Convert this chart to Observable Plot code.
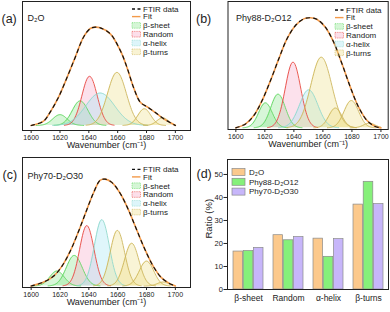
<!DOCTYPE html>
<html><head><meta charset="utf-8">
<script src="https://cdn.jsdelivr.net/npm/d3@7"></script>
<script src="https://cdn.jsdelivr.net/npm/@observablehq/plot@0.6"></script>
<style>
html,body{margin:0;padding:0;background:#fff;}
#chart{position:relative;width:390px;height:312px;overflow:hidden;font-family:"Liberation Sans",Arial,sans-serif;}
</style></head><body><div id="chart"></div>
<script>
// ---------- DATA ----------
const wnTicks = [1600, 1620, 1640, 1660, 1680, 1700];
const compTypes = ["β-sheet", "Random", "α-helix", "β-turns"];

// (a) D2O
const aFitWavenumber = [1600, 1608.6, 1613.2, 1619, 1624.8, 1630.6, 1636.3, 1641, 1644.4, 1647.9, 1654.9, 1661.8, 1666.4, 1671.1, 1675.7, 1681.5, 1687.3, 1691.9, 1698.8, 1700];
const aFitAbsorbance = [0, 0.044, 0.136, 0.288, 0.485, 0.695, 0.898, 0.986, 1.0, 0.993, 0.932, 0.763, 0.593, 0.383, 0.237, 0.18, 0.119, 0.068, 0.01, 0];
const aBandCenter = [1620, 1634, 1640.5, 1647.9, 1659.5, 1678.5, 1691.2];
const aBandHeight = [0.11, 0.25, 0.50, 0.33, 0.54, 0.17, 0.078];
const aBandWidth  = [5, 5.5, 5.3, 10, 6.5, 4.5, 4];
const aBandType   = ["β-sheet", "β-sheet", "Random", "α-helix", "β-turns", "β-turns", "β-turns"];

// (b) Phy88-D2O12
const bFitWavenumber = [1600, 1606.7, 1612.4, 1618.1, 1623.9, 1629.6, 1635.3, 1641.1, 1646.8, 1651.4, 1656, 1661.7, 1667.4, 1673.2, 1678.9, 1684.6, 1690.4, 1696.1, 1700];
const bFitAbsorbance = [0, 0.036, 0.112, 0.248, 0.43, 0.627, 0.81, 0.93, 0.99, 1.0, 0.985, 0.915, 0.779, 0.58, 0.37, 0.188, 0.067, 0.012, 0];
const bBandCenter = [1620.4, 1629.1, 1639.4, 1650.2, 1658.9, 1668.6, 1679.6, 1692];
const bBandHeight = [0.227, 0.306, 0.597, 0.345, 0.642, 0.18, 0.248, 0.042];
const bBandWidth  = [4.7, 5, 5.3, 6.3, 7.2, 4.5, 5, 4];
const bBandType   = ["β-sheet", "β-sheet", "Random", "α-helix", "β-turns", "β-turns", "β-turns", "β-turns"];

// (c) Phy70-D2O30
const cFitWavenumber = [1600, 1608.7, 1615.6, 1621.4, 1627.1, 1632.9, 1638.6, 1643.2, 1647.8, 1651.3, 1655.9, 1661.6, 1667.4, 1673.1, 1678.9, 1684.6, 1690.3, 1696.1, 1700];
const cFitAbsorbance = [0, 0.037, 0.093, 0.186, 0.326, 0.512, 0.714, 0.87, 0.988, 1.0, 0.969, 0.87, 0.714, 0.528, 0.342, 0.186, 0.078, 0.022, 0];
const cBandCenter = [1617.9, 1629.9, 1638.6, 1649, 1659.8, 1669.7, 1680, 1691.5];
const cBandHeight = [0.14, 0.286, 0.565, 0.62, 0.52, 0.40, 0.233, 0.037];
const cBandWidth  = [5, 5.5, 5, 5.2, 5, 5, 5, 4];
const cBandType   = ["β-sheet", "β-sheet", "Random", "α-helix", "β-turns", "β-turns", "β-turns", "β-turns"];

// (d) ratios
const ratioCategories = ["β-sheet", "Random", "α-helix", "β-turns"];
const ratioSeries = ["D₂O", "Phy88-D₂O12", "Phy70-D₂O30"];
const ratioD2O   = [16.5, 23.6, 22.1, 36.9];
const ratioPhy88 = [16.7, 21.4, 14.2, 46.8];
const ratioPhy70 = [18.1, 22.8, 21.9, 37.1];
const ratioTicks = [0, 10, 20, 30, 40, 50];

// ---------- STYLE ----------
const typeFill   = {"β-sheet": "#86e58a", "Random": "#f5a3c4", "α-helix": "#9ee3f2", "β-turns": "#eedd82"};
const typeStroke = {"β-sheet": "#5fd65f", "Random": "#e8483f", "α-helix": "#8fd8cc", "β-turns": "#cdb55a"};
const seriesFill = ["#fcc98c", "#86f07a", "#c7b6fa"];
const fitColor = "#f39a4a";
const FONT = "'Liberation Sans', Arial, sans-serif";

const chart = document.getElementById("chart");
function place(svg, left, top) {
  svg.style.position = "absolute";
  svg.style.left = left + "px";
  svg.style.top = top + "px";
  chart.appendChild(svg);
}

function bandSamples(centers, heights, widths, types) {
  const out = [];
  centers.forEach((c, i) => {
    const s = widths[i];
    const lo = Math.max(1600, c - 3.3 * s), hi = Math.min(1700, c + 3.3 * s);
    for (let x = lo; x <= hi + 1e-9; x += 0.5)
      out.push({id: i, type: types[i], x, y: heights[i] * Math.exp(-((x - c) ** 2) / (2 * s * s))});
  });
  return out;
}

function spectrum(o) {
  const bands = bandSamples(o.centers, o.heights, o.widths, o.types);
  const fit = o.fitX.map((x, i) => ({x, y: o.fitY[i]}));
  const marks = [];
  for (const t of compTypes) {
    const d = bands.filter(b => b.type === t);
    marks.push(Plot.areaY(d, {x: "x", y: "y", z: "id", fill: typeFill[t], fillOpacity: 0.33}));
  }
  for (const t of compTypes) {
    const d = bands.filter(b => b.type === t);
    marks.push(Plot.lineY(d, {x: "x", y: "y", z: "id", stroke: typeStroke[t], strokeWidth: 0.9}));
  }
  marks.push(Plot.line(fit, {x: "x", y: "y", stroke: fitColor, strokeWidth: 1.6, curve: "catmull-rom"}));
  marks.push(Plot.line(fit, {x: "x", y: "y", stroke: "#111", strokeWidth: 1.2, strokeDasharray: "3.5,4", curve: "catmull-rom"}));
  marks.push(Plot.frame({stroke: "#222", strokeWidth: 1}));
  marks.push(Plot.axisX({ticks: wnTicks, tickFormat: d => String(d), tickSize: 3, tickPadding: 1.5, fontSize: 7, label: null}));
  marks.push(Plot.text(["Wavenumber (cm⁻¹)"], {frameAnchor: "bottom", dy: o.titleDy, fontSize: 9}));
  marks.push(Plot.text([o.letter], {frameAnchor: "top-left", textAnchor: "start", dx: o.letterDx, dy: 13, fontSize: 12.5}));
  marks.push(Plot.text([o.name], {frameAnchor: "top-left", textAnchor: "start", dx: o.nameDx, dy: o.nameDy, fontSize: 9}));
  const svg = Plot.plot({
    width: 195, height: 156,
    marginLeft: o.ml, marginRight: o.mr, marginTop: o.mt, marginBottom: o.mb,
    x: {domain: o.xDomain, axis: null},
    y: {domain: o.yDomain, axis: null},
    style: {fontFamily: FONT, fontSize: "8px", color: "#222", background: "none", overflow: "visible"},
    marks
  });
  // legend
  const g = d3.select(svg).append("g").attr("font-family", FONT).attr("font-size", 8)
    .attr("fill", "#222").attr("text-anchor", "start");
  const rows = [0, 7.6, 16.4, 25.2, 34, 42.8].map(v => v + o.legY);
  const lx = o.legX;
  g.append("line").attr("x1", lx).attr("x2", lx + 8.5).attr("y1", rows[0]).attr("y2", rows[0])
    .attr("stroke", "#111").attr("stroke-width", 1.3).attr("stroke-dasharray", "3,2.5");
  g.append("line").attr("x1", lx).attr("x2", lx + 8.5).attr("y1", rows[1]).attr("y2", rows[1])
    .attr("stroke", fitColor).attr("stroke-width", 1.4);
  compTypes.forEach((t, i) => {
    g.append("rect").attr("x", lx).attr("y", rows[i + 2] - 2.8).attr("width", 8.5).attr("height", 5.6)
      .attr("fill", typeFill[t]).attr("fill-opacity", 0.35)
      .attr("stroke", typeStroke[t]).attr("stroke-width", 0.6).attr("stroke-dasharray", "1,0.8");
  });
  ["FTIR data", "Fit", ...compTypes].forEach((s, i) => {
    g.append("text").attr("x", lx + 11).attr("y", rows[i]).attr("dy", "0.35em").attr("text-anchor", "start").text(s);
  });
  return svg;
}

place(spectrum({
  fitX: aFitWavenumber, fitY: aFitAbsorbance, centers: aBandCenter, heights: aBandHeight, widths: aBandWidth, types: aBandType,
  ml: 22, mr: 5, mt: 1, mb: 26, xDomain: [1594, 1710.5], yDomain: [-0.051, 1.261], titleDy: 17.5,
  letter: "(a)", letterDx: -21, name: "D₂O", nameDx: 5, nameDy: 13, legX: 132, legY: 9
}), 0, 0);

place(spectrum({
  fitX: bFitWavenumber, fitY: bFitAbsorbance, centers: bBandCenter, heights: bBandHeight, widths: bBandWidth, types: bBandType,
  ml: 32.5, mr: 2.3, mt: 1, mb: 27, xDomain: [1594.6, 1705], yDomain: [-0.015, 1.148], titleDy: 17.5,
  letter: "(b)", letterDx: -32, name: "Phy88-D₂O12", nameDx: 8, nameDy: 13, legX: 140, legY: 10
}), 195, 0);

place(spectrum({
  fitX: cFitWavenumber, fitY: cFitAbsorbance, centers: cBandCenter, heights: cBandHeight, widths: cBandWidth, types: cBandType,
  ml: 22, mr: 5, mt: 1, mb: 25, xDomain: [1594, 1710.5], yDomain: [-0.014, 1.202], titleDy: 17.5,
  letter: "(c)", letterDx: -20, name: "Phy70-D₂O30", nameDx: 5, nameDy: 15, legX: 132, legY: 13.3
}), 0, 156);

// (d) bars
(function () {
  const values = [ratioD2O, ratioPhy88, ratioPhy70];
  const rows = [];
  ratioSeries.forEach((s, si) => ratioCategories.forEach((c, ci) => rows.push({category: c, series: s, si, value: values[si][ci]})));
  const W = 195, ml = 32, mr = 2;
  const inner = W - ml - mr;
  const step = inner / (ratioCategories.length - 0.25 + 0.25);
  const bw = step * 0.75;
  const barW = bw / 3 - 0.3;
  const marks = [];
  ratioSeries.forEach((s, si) => {
    const left = si * (bw - barW) / 2;
    marks.push(Plot.barY(rows.filter(r => r.series === s), {
      x: "category", y: "value", fill: seriesFill[si], stroke: "#8a8a8a", strokeWidth: 0.7,
      insetLeft: left, insetRight: bw - barW - left
    }));
  });
  marks.push(Plot.frame({stroke: "#222", strokeWidth: 1}));
  marks.push(Plot.axisY({ticks: ratioTicks, tickSize: 3.5, tickPadding: 1.2, fontSize: 7.5, label: null}));
  marks.push(Plot.axisX({tickSize: 0, tickPadding: 5, fontSize: 8.5, label: null}));
  marks.push(Plot.text(["Ratio (%)"], {frameAnchor: "left", dx: -18.5, dy: 14, rotate: -90, fontSize: 9.5}));
  marks.push(Plot.text(["(d)"], {frameAnchor: "top-left", textAnchor: "start", dx: -31, dy: 10, fontSize: 12.5}));
  const svg = Plot.plot({
    width: W, height: 156, marginLeft: ml, marginRight: mr, marginTop: 3, marginBottom: 23,
    x: {type: "band", domain: ratioCategories, paddingInner: 0.25, paddingOuter: 0.125, axis: null},
    y: {domain: [0, 56.5], axis: null},
    style: {fontFamily: FONT, fontSize: "8px", color: "#222", background: "none", overflow: "visible"},
    marks
  });
  const g = d3.select(svg).append("g").attr("font-family", FONT).attr("font-size", 8)
    .attr("fill", "#222").attr("text-anchor", "start");
  const ly = [16, 25.8, 35.6];
  ratioSeries.forEach((s, i) => {
    g.append("rect").attr("x", 37).attr("y", ly[i] - 3.5).attr("width", 13).attr("height", 7)
      .attr("fill", seriesFill[i]).attr("stroke", "#8a8a8a").attr("stroke-width", 0.7);
    g.append("text").attr("x", 54).attr("y", ly[i]).attr("dy", "0.35em").attr("text-anchor", "start").text(s);
  });
  place(svg, 195, 156);
})();
</script></body></html>
